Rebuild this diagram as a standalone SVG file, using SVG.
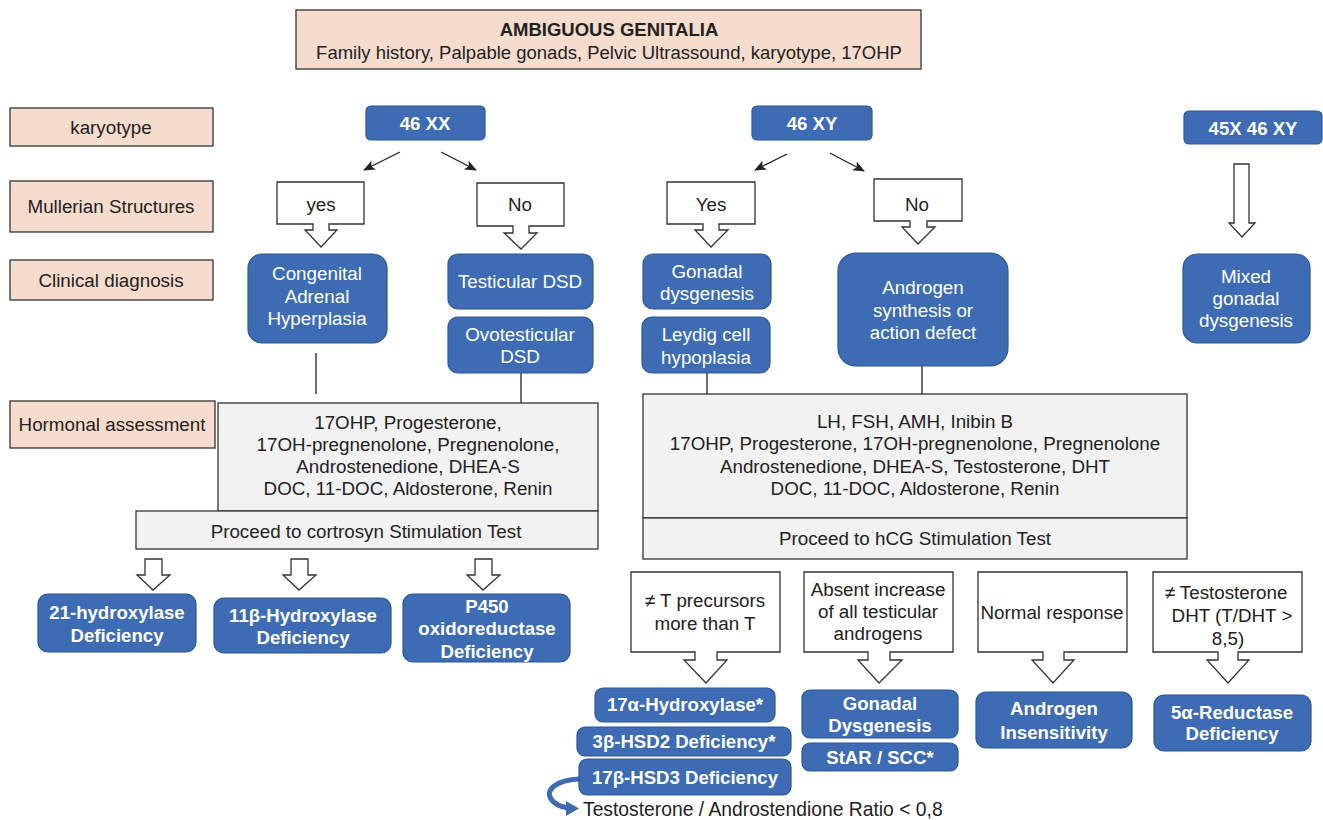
<svg xmlns="http://www.w3.org/2000/svg" width="1323" height="820" viewBox="0 0 1323 820">
  <defs>
    <marker id="head" viewBox="0 0 12 10" refX="11" refY="5" markerWidth="12" markerHeight="10" markerUnits="userSpaceOnUse" orient="auto">
      <path d="M0,0 L12,5 L0,10 L3,5 Z" fill="#222"/>
    </marker>
    <style>
      text { font-family: "Liberation Sans", Arial, sans-serif; dominant-baseline: central; text-anchor: middle; }
      .peach { fill: #f6dccd; stroke: #333; stroke-width: 1.3; }
      .grey { fill: #f1f2f1; stroke: #333; stroke-width: 1.3; }
      .callout { fill: #fff; stroke: #333; stroke-width: 1.3; stroke-linejoin: miter; }
      .blue { fill: #3d6cb4; stroke: #2c5797; stroke-width: 1.2; }
      .lbl { font-size: 18.8px; fill: #222; }
      .hdr { font-size: 18.5px; fill: #222; }
      .w { font-size: 18.8px; fill: #fff; }
      .wb { font-size: 18.6px; fill: #fff; font-weight: bold; }
      .link { stroke: #222; stroke-width: 1.3; fill: none; }
    </style>
  </defs>
  <rect width="1323" height="820" fill="#fff"/>

  <!-- header -->
  <g id="header">
    <rect class="peach" x="296" y="10" width="625" height="59"/>
    <text class="hdr" x="609" y="29" font-weight="bold">AMBIGUOUS GENITALIA</text>
    <text class="hdr" x="609" y="52">Family history, Palpable gonads, Pelvic Ultrassound, karyotype, 17OHP</text>
  </g>

  <!-- row labels -->
  <g id="label-karyotype">
    <rect class="peach" x="10" y="108" width="203" height="38"/>
    <text class="lbl" x="111" y="127">karyotype</text>
  </g>
  <g id="label-mullerian">
    <rect class="peach" x="10" y="181" width="203" height="51"/>
    <text class="lbl" x="111" y="206">Mullerian Structures</text>
  </g>
  <g id="label-clinical">
    <rect class="peach" x="10" y="260" width="203" height="40"/>
    <text class="lbl" x="111" y="280">Clinical diagnosis</text>
  </g>
  <g id="label-hormonal">
    <rect class="peach" x="10" y="401" width="205" height="47"/>
    <text class="lbl" x="112" y="424">Hormonal assessment</text>
  </g>

  <!-- connectors -->
  <g id="connectors">
    <line class="link" x1="400" y1="152" x2="364" y2="170" marker-end="url(#head)"/>
    <line class="link" x1="441" y1="152" x2="476" y2="170" marker-end="url(#head)"/>
    <line class="link" x1="787" y1="154" x2="755" y2="170" marker-end="url(#head)"/>
    <line class="link" x1="830" y1="153" x2="864" y2="171" marker-end="url(#head)"/>
    <line class="link" x1="316" y1="353" x2="316" y2="394"/>
    <line class="link" x1="521" y1="373" x2="521" y2="403"/>
    <line class="link" x1="707" y1="373" x2="707" y2="394"/>
    <line class="link" x1="922" y1="366" x2="922" y2="394"/>
    <!-- hollow block arrows -->
    <path class="callout" d="M145,559 H162 V575 H170 L153,590 L137,575 H145 Z"/>
    <path class="callout" d="M291,559 H308 V575 H316 L299,590 L283,575 H291 Z"/>
    <path class="callout" d="M475,559 H492 V575 H500 L483,590 L467,575 H475 Z"/>
    <path class="callout" d="M1234,164 H1249 V223 H1255 L1242,237 L1229,223 H1234 Z"/>
    <!-- curved return arrow -->
    <path d="M579,779 C556,780 545,790 551,799 C555,805 561,807 568,808" fill="none" stroke="#3d6cb4" stroke-width="5"/>
    <polygon points="566,801 579,808.5 566,816" fill="#3d6cb4"/>
  </g>

  <!-- 46 XX branch -->
  <g id="xx">
    <rect class="blue" x="366" y="106" width="119" height="34" rx="5"/>
    <text class="wb" x="425" y="123">46 XX</text>
  </g>
  <g id="xx-yes">
    <path class="callout" d="M277,182 H364 V224 H329 V230 H337 L321,247 L305,230 H313 V224 H277 Z"/>
    <text class="lbl" x="321" y="204">yes</text>
  </g>
  <g id="xx-no">
    <path class="callout" d="M477,183 H564 V226 H529 V233 H537 L521,249 L504,233 H513 V226 H477 Z"/>
    <text class="lbl" x="520" y="204">No</text>
  </g>
  <g id="cah">
    <rect class="blue" x="248" y="254" width="139" height="89" rx="14"/>
    <text class="w" x="317" y="273">Congenital</text>
    <text class="w" x="317" y="296">Adrenal</text>
    <text class="w" x="317" y="318">Hyperplasia</text>
  </g>
  <g id="testicular-dsd">
    <rect class="blue" x="448" y="254" width="145" height="55" rx="10"/>
    <text class="w" x="520" y="281">Testicular DSD</text>
  </g>
  <g id="ovotesticular-dsd">
    <rect class="blue" x="448" y="317" width="145" height="56" rx="10"/>
    <text class="w" x="520" y="334">Ovotesticular</text>
    <text class="w" x="520" y="356">DSD</text>
  </g>
  <g id="xx-hormones">
    <rect class="grey" x="218" y="403" width="380" height="108"/>
    <text class="lbl" x="408" y="422">17OHP, Progesterone,</text>
    <text class="lbl" x="408" y="444">17OH-pregnenolone, Pregnenolone,</text>
    <text class="lbl" x="408" y="466">Androstenedione, DHEA-S</text>
    <text class="lbl" x="408" y="488">DOC, 11-DOC, Aldosterone, Renin</text>
  </g>
  <g id="cortrosyn-test">
    <rect class="grey" x="136" y="511" width="462" height="38"/>
    <text class="lbl" x="366" y="531">Proceed to cortrosyn Stimulation Test</text>
  </g>
  <g id="cyp21">
    <rect class="blue" x="38" y="594" width="158" height="58" rx="10"/>
    <text class="wb" x="117" y="612">21-hydroxylase</text>
    <text class="wb" x="117" y="635">Deficiency</text>
  </g>
  <g id="cyp11b">
    <rect class="blue" x="214" y="598" width="177" height="55" rx="10"/>
    <text class="wb" x="303" y="615">11β-Hydroxylase</text>
    <text class="wb" x="303" y="637">Deficiency</text>
  </g>
  <g id="por">
    <rect class="blue" x="403" y="594" width="167" height="68" rx="10"/>
    <text class="wb" x="487" y="606">P450</text>
    <text class="wb" x="487" y="628">oxidoreductase</text>
    <text class="wb" x="487" y="651">Deficiency</text>
  </g>

  <!-- 46 XY branch -->
  <g id="xy">
    <rect class="blue" x="752" y="106" width="120" height="34" rx="5"/>
    <text class="wb" x="812" y="123">46 XY</text>
  </g>
  <g id="xy-yes">
    <path class="callout" d="M667,182 H755 V224 H719 V230 H728 L711,247 L695,230 H703 V224 H667 Z"/>
    <text class="lbl" x="711" y="204">Yes</text>
  </g>
  <g id="xy-no">
    <path class="callout" d="M874,179 H962 V221 H927 V227 H935 L918,244 L902,227 H910 V221 H874 Z"/>
    <text class="lbl" x="917" y="204">No</text>
  </g>
  <g id="gonadal-dysgenesis">
    <rect class="blue" x="643" y="254" width="128" height="55" rx="10"/>
    <text class="w" x="707" y="271">Gonadal</text>
    <text class="w" x="707" y="293">dysgenesis</text>
  </g>
  <g id="leydig">
    <rect class="blue" x="642" y="317" width="128" height="56" rx="10"/>
    <text class="w" x="706" y="334">Leydig cell</text>
    <text class="w" x="706" y="357">hypoplasia</text>
  </g>
  <g id="androgen-defect">
    <rect class="blue" x="838" y="253" width="170" height="113" rx="18"/>
    <text class="w" x="923" y="287">Androgen</text>
    <text class="w" x="923" y="310">synthesis or</text>
    <text class="w" x="923" y="332">action defect</text>
  </g>
  <g id="xy-hormones">
    <rect class="grey" x="643" y="394" width="544" height="124"/>
    <text class="lbl" x="915" y="421">LH, FSH, AMH, Inibin B</text>
    <text class="lbl" x="915" y="443">17OHP, Progesterone, 17OH-pregnenolone, Pregnenolone</text>
    <text class="lbl" x="915" y="466">Androstenedione, DHEA-S, Testosterone, DHT</text>
    <text class="lbl" x="915" y="488">DOC, 11-DOC, Aldosterone, Renin</text>
  </g>
  <g id="hcg-test">
    <rect class="grey" x="643" y="518" width="544" height="41"/>
    <text class="lbl" x="915" y="538">Proceed to hCG Stimulation Test</text>
  </g>

  <g id="precursors">
    <path class="callout" d="M631,572 H780 V652 H717 V660 H727 L706,683 L684,660 H695 V652 H631 Z"/>
    <text class="lbl" x="705" y="600">≠ T precursors</text>
    <text class="lbl" x="705" y="623">more than T</text>
  </g>
  <g id="absent-increase">
    <path class="callout" d="M804,572 H953 V652 H890 V660 H902 L879,683 L858,660 H868 V652 H804 Z"/>
    <text class="lbl" x="878" y="589">Absent increase</text>
    <text class="lbl" x="878" y="611">of all testicular</text>
    <text class="lbl" x="878" y="633">androgens</text>
  </g>
  <g id="normal-response">
    <path class="callout" d="M978,572 H1127 V652 H1064 V660 H1074 L1053,683 L1032,660 H1043 V652 H978 Z"/>
    <text class="lbl" x="1052" y="612">Normal response</text>
  </g>
  <g id="t-dht">
    <path class="callout" d="M1153,572 H1302 V652 H1238 V660 H1249 L1228,683 L1207,660 H1218 V652 H1153 Z"/>
    <text class="lbl" x="1226" y="592">≠ Testosterone</text>
    <text class="lbl" x="1232" y="615">DHT (T/DHT &gt;</text>
    <text class="lbl" x="1228" y="638">8,5)</text>
  </g>

  <g id="cyp17">
    <rect class="blue" x="595" y="688" width="180" height="34" rx="8"/>
    <text class="wb" x="685" y="704">17α-Hydroxylase*</text>
  </g>
  <g id="hsd3b2">
    <rect class="blue" x="577" y="727" width="214" height="29" rx="8"/>
    <text class="wb" x="684" y="741">3β-HSD2 Deficiency*</text>
  </g>
  <g id="hsd17b3">
    <rect class="blue" x="579" y="759" width="212" height="36" rx="8"/>
    <text class="wb" x="685" y="777">17β-HSD3 Deficiency</text>
  </g>
  <g id="ratio-note">
    <text class="lbl" x="583" y="809" style="text-anchor:start;font-size:19.3px">Testosterone / Androstendione Ratio &lt; 0,8</text>
  </g>
  <g id="gonadal-dysgenesis-2">
    <rect class="blue" x="802" y="690" width="156" height="48" rx="8"/>
    <text class="wb" x="880" y="703">Gonadal</text>
    <text class="wb" x="880" y="725">Dysgenesis</text>
  </g>
  <g id="star-scc">
    <rect class="blue" x="802" y="743" width="156" height="28" rx="8"/>
    <text class="wb" x="880" y="757">StAR / SCC*</text>
  </g>
  <g id="androgen-insensitivity">
    <rect class="blue" x="976" y="692" width="156" height="56" rx="10"/>
    <text class="wb" x="1054" y="708">Androgen</text>
    <text class="wb" x="1054" y="732">Insensitivity</text>
  </g>
  <g id="srd5a2">
    <rect class="blue" x="1154" y="695" width="157" height="56" rx="10"/>
    <text class="wb" x="1232" y="712">5α-Reductase</text>
    <text class="wb" x="1232" y="733">Deficiency</text>
  </g>

  <!-- mosaic branch -->
  <g id="mosaic">
    <rect class="blue" x="1184" y="111" width="138" height="33" rx="5"/>
    <text class="wb" x="1253" y="128">45X 46 XY</text>
  </g>
  <g id="mixed-gonadal">
    <rect class="blue" x="1183" y="254" width="127" height="89" rx="14"/>
    <text class="w" x="1246" y="276">Mixed</text>
    <text class="w" x="1246" y="298">gonadal</text>
    <text class="w" x="1246" y="320">dysgenesis</text>
  </g>
</svg>
